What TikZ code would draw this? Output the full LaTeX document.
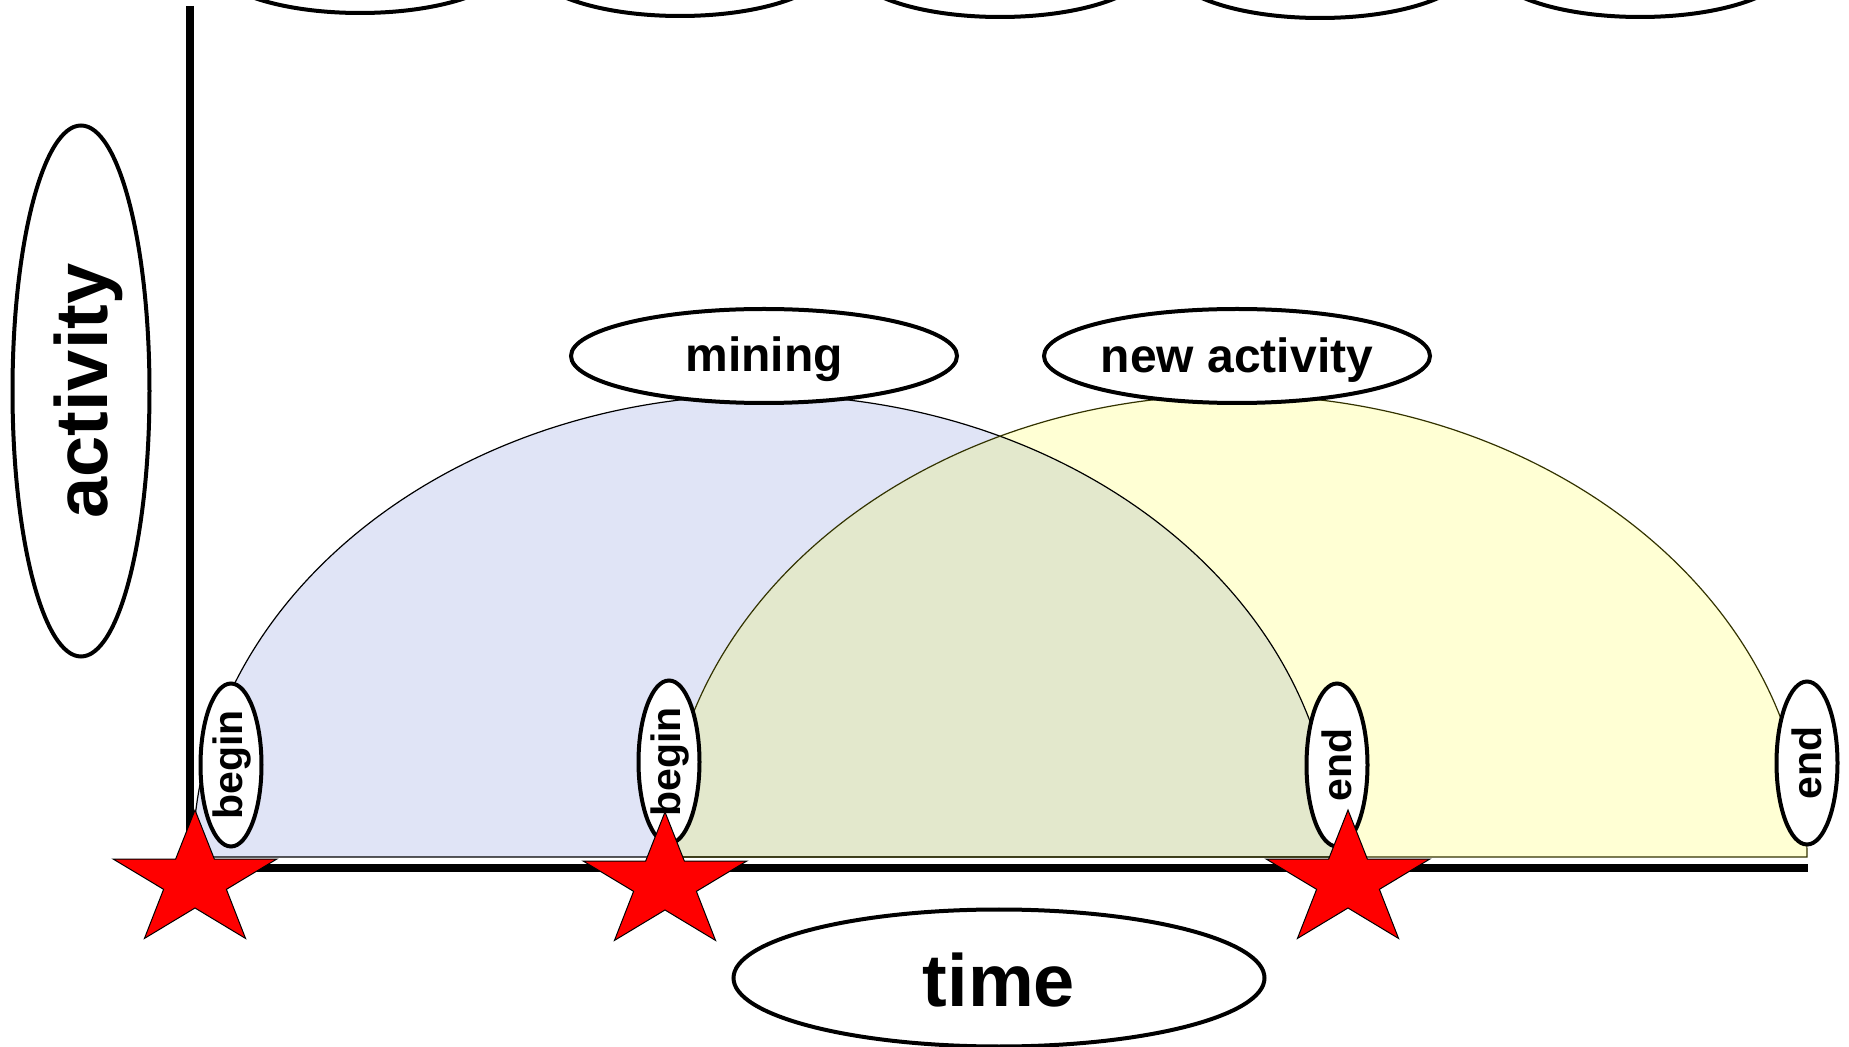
\documentclass[tikz,border=0pt]{standalone}
\usepackage{fontspec}
\setmainfont{Liberation Sans}
\usetikzlibrary{shapes.geometric}
\definecolor{bluefill}{RGB}{224,228,246}
\definecolor{yellowfill}{RGB}{255,255,212}
\definecolor{mixfill}{RGB}{227,232,204}
\definecolor{olivedark}{RGB}{51,51,0}
\definecolor{starred}{RGB}{255,0,0}
\newcommand\domeblue{(193,857) arc[start angle=180,end angle=0,x radius=285.5pt,y radius=231pt] -- cycle}
\newcommand\domeyellow{(665,857) arc[start angle=180,end angle=0,x radius=285.5pt,y radius=231pt] -- cycle}
\newcommand\redstarat[2]{\draw[starsty] (#1,#2) +(-90:86 and 71) -- +(-54:33 and 27) -- +(-18:86 and 71) -- +(18:33 and 27) -- +(54:86 and 71) -- +(90:33 and 27) -- +(126:86 and 71) -- +(162:33 and 27) -- +(198:86 and 71) -- +(234:33 and 27) -- cycle;}
\newcommand\lowtxt[2]{\raisebox{-#1}[\height][\depth]{#2}}
\begin{document}
\begin{tikzpicture}[x=0.5pt,y=-0.5pt,
  ell/.style={ellipse,draw=black,line width=2pt,fill=white,inner sep=0pt},
  topell/.style={ell,minimum width=150pt,minimum height=52pt},
  toplbl/.style={ell,minimum width=193pt,minimum height=47pt,font=\bfseries\fontsize{24}{28}\selectfont},
  axislbl/.style={ell,minimum width=265.5pt,minimum height=68.5pt,font=\bfseries\fontsize{37}{44}\selectfont},
  smalllbl/.style={ell,rotate=90,minimum width=81.5pt,minimum height=30.5pt,font=\bfseries\fontsize{20.5}{24}\selectfont},
  starsty/.style={fill=starred,draw=black,line width=0.5pt,line join=miter},
  axisline/.style={line width=4pt,line join=miter}]
\useasboundingbox (0,0) rectangle (1849,1047);
% domes
\fill[bluefill] \domeblue;
\fill[yellowfill] \domeyellow;
\begin{scope}
  \clip \domeblue;
  \fill[mixfill] \domeyellow;
\end{scope}
\draw[black,line width=0.6pt] \domeblue;
\draw[olivedark,line width=0.6pt] \domeyellow;
% axes
\coordinate (o) at (189.5,868);
\coordinate (ytop) at (189.5,6);
\coordinate (xend) at (1808,868);
\draw[axisline] (ytop) -- (o) -- (xend);
% top ellipses (cut by the frame)
\begin{scope}
  \clip (0,0) rectangle (1849,1047);
  \node[topell] (t1) at (360,-39) {};
  \node[topell] (t2) at (680,-36) {};
  \node[topell] (t3) at (1000,-35) {};
  \node[topell] (t4) at (1320,-34) {};
  \node[topell] (t5) at (1640,-35) {};
\end{scope}
% labels
\node[toplbl] (mining) at (764,356) {\lowtxt{1.8pt}{mining}};
\node[toplbl] (newact) at (1237,356) {\lowtxt{1.8pt}{new activity}};
\node[axislbl,rotate=90] (activity) at (81,391) {\lowtxt{3.5pt}{activity}};
\node[axislbl] (time) at (999,978) {\lowtxt{1.2pt}{time}};
\node[smalllbl] (begin1) at (231,765) {\lowtxt{0.6pt}{begin}};
\node[smalllbl] (begin2) at (669,762) {\lowtxt{0.6pt}{begin}};
\node[smalllbl] (end1) at (1337,765) {end};
\node[smalllbl] (end2) at (1807,763) {end};
% stars
\redstarat{195}{881}
\redstarat{665}{883}
\redstarat{1348}{881}
\end{tikzpicture}
\end{document}
